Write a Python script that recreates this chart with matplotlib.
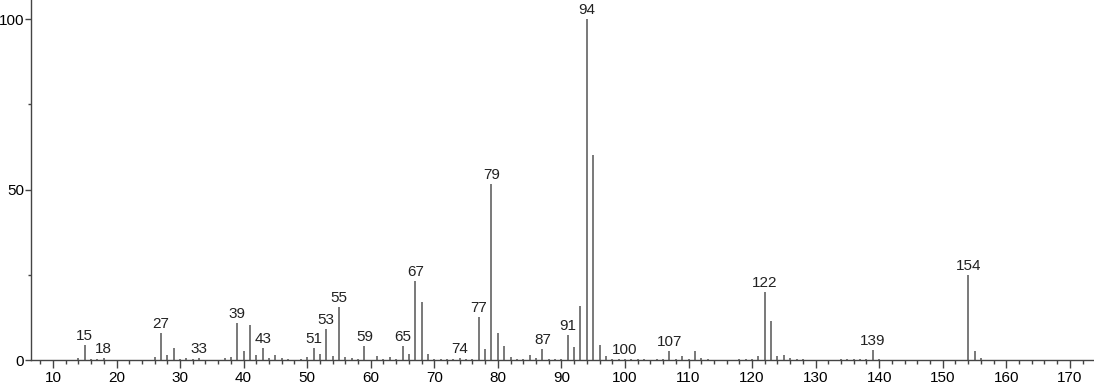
import matplotlib
matplotlib.use("Agg")
import matplotlib.pyplot as plt
from matplotlib.ticker import MultipleLocator

plt.rcParams["font.family"] = ["Liberation Sans", "DejaVu Sans"]

# m/z 와 상대 강도
mz = [14, 15, 16, 17, 18, 26, 27, 28, 29, 30, 31, 32, 33, 37, 38, 39, 40, 41, 42, 43,
      44, 45, 46, 47, 49, 50, 51, 52, 53, 54, 55, 56, 57, 58, 59, 61, 62, 63, 64, 65,
      66, 67, 68, 69, 70, 71, 72, 73, 74, 75, 76, 77, 78, 79, 80, 81, 82, 83, 84, 85,
      86, 87, 88, 89, 90, 91, 92, 93, 94, 95, 96, 97, 98, 99, 100, 101, 102, 103, 105, 106,
      107, 108, 109, 110, 111, 112, 113, 118, 119, 120, 121, 122, 123, 124, 125, 126, 127, 128,
      134, 135, 136, 137, 138, 139, 140, 154, 155, 156]
intensity = [0.5, 4.4, 0.3, 0.3, 0.5, 0.8, 7.9, 1.5, 3.5, 0.3, 0.5, 0.3, 0.5, 0.5, 1.0, 10.9, 2.7, 10.2, 1.5, 3.6,
             0.6, 1.5, 0.5, 0.3, 0.3, 1.0, 3.4, 1.8, 9.1, 1.2, 15.6, 0.8, 0.5, 0.3, 4.1, 1.2, 0.4, 1.0, 0.3, 4.1,
             1.9, 23.1, 17.1, 1.7, 0.4, 0.3, 0.2, 0.3, 0.7, 0.3, 0.3, 12.7, 3.1, 51.6, 8.0, 4.1, 0.8, 0.4, 0.3, 1.5,
             0.5, 3.1, 0.4, 0.4, 0.3, 7.3, 3.9, 15.8, 100.0, 60.1, 4.3, 1.3, 0.4, 0.3, 0.4, 0.3, 0.2, 0.2, 0.3, 0.2,
             2.7, 0.4, 1.3, 0.4, 2.6, 0.5, 0.3, 0.2, 0.2, 0.3, 1.2, 20.0, 11.3, 1.3, 1.5, 0.6, 0.3, 0.2,
             0.2, 0.3, 0.2, 0.3, 0.3, 3.0, 0.2, 24.8, 2.7, 0.5]
labeled = [15, 18, 27, 33, 39, 43, 51, 53, 55, 59, 65, 67, 74, 77, 79, 87, 91, 94, 100, 107, 122, 139, 154]

fig = plt.figure(figsize=(10.94, 3.84), dpi=100)
ax = fig.add_axes([0.0283, 0.0625, 0.9717, 0.9375])

ax.vlines(mz, 0, intensity, color="#555555", lw=1.1)
inten = dict(zip(mz, intensity))
for m in labeled:
    ax.annotate(str(m), (m, inten[m]), xytext=(0, 1.5), textcoords="offset points",
                ha="center", va="bottom", fontsize=11, color="#222222")

ax.set_xlim(6.54, 173.8)
ax.set_ylim(0, 105.6)
ax.xaxis.set_major_locator(MultipleLocator(10))
ax.xaxis.set_minor_locator(MultipleLocator(2))
ax.yaxis.set_major_locator(MultipleLocator(50))
ax.yaxis.set_minor_locator(MultipleLocator(25))
for s in ("top", "right"):
    ax.spines[s].set_visible(False)
for s in ("left", "bottom"):
    ax.spines[s].set_color("#444444")
    ax.spines[s].set_linewidth(1.0)
ax.tick_params(which="major", length=6, width=1, color="#444444", labelsize=11, pad=2)
ax.tick_params(which="minor", length=3, width=1, color="#444444")
ax.tick_params(axis="y", which="major", length=4, pad=1)
ax.tick_params(axis="y", which="minor", length=2)

plt.savefig("out.png", dpi=100)
